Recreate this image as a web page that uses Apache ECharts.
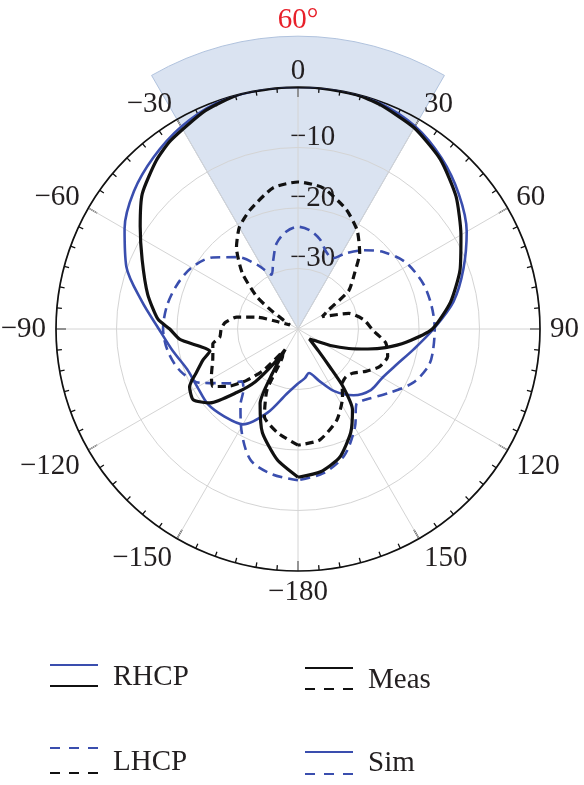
<!DOCTYPE html>
<html>
<head>
<meta charset="utf-8">
<script src="https://cdn.jsdelivr.net/npm/echarts@6/dist/echarts.min.js"></script>
<style>
  html, body { margin: 0; padding: 0; background: #fff; }
  #chart { width: 584px; height: 785px; }
</style>
</head>
<body>
<div id="chart"></div>
<script>
// ---------------- data (angle in degrees, clockwise from top; gain in dB) ----------------
const radiusTicks = [-40, -30, -20, -10, 0];
const angleTickStep = 30;
const beamAngles = [-30, 30];
const beamLabel = '60°';

const simRhcpAngles = [-180,-170,-160,-150,-140,-130,-120,-110,-100,-90,-80,-70,-60,-50,-40,-30,-20,-10,0,10,20,30,40,50,60,70,80,90,100,110,120,130,140,150,158,166,172,180];
const simRhcpDb     = [-31,-29.1,-25.3,-21.8,-21.1,-20.6,-20.8,-20.5,-19.0,-17.0,-13.8,-9.8,-6.9,-4.6,-2.9,-1.4,-0.3,0,0,0,-0.3,-1.3,-3.1,-5.3,-7.8,-10.9,-13.9,-17.6,-20.6,-22.7,-23.9,-24.3,-25.7,-28.2,-30.8,-32.5,-31.8,-31];

const simLhcpAngles = [-180,-170,-160,-150,-143,-138,-133,-128,-124,-119,-110,-100,-90,-80,-70,-60,-50,-40,-32,-26,-20,-14,-7,0,7,14,20,26,32,40,48,58,70,80,90,100,106,115,125,136,142,150,160,170,180];
const simLhcpDb     = [-15.0,-15.6,-17.0,-21.2,-24.2,-26.5,-27.3,-25.4,-24.0,-21.6,-19.4,-18.2,-17.7,-18.0,-18.7,-19.7,-21.6,-24.5,-27.6,-30.0,-28.0,-25.4,-23.8,-23.1,-23.6,-24.8,-26.4,-27.0,-25.3,-23.0,-21.0,-19.1,-18.0,-17.6,-17.4,-17.4,-17.6,-19.0,-21.6,-23.8,-24.3,-21.2,-17.7,-15.8,-15.0];

const measRhcpAngles = [-180,-171,-161,-153,-150,-148,-145,-141,-136,-130,-124,-118,-113,-108,-104,-100,-95,-90,-86,-77,-66,-57,-49,-40,-34,-23,-14,-5,0,5,14,20,30,40,50,60,70,80,90,97,102,106,111,117,124,131,137,140,142,146,153,162,171,180];
const measRhcpDb     = [-15.5,-18.1,-21.9,-26.2,-31.5,-36.0,-33.0,-28.8,-25.4,-21.0,-19.1,-19.7,-21.8,-23.5,-25.0,-23.5,-20.4,-18.8,-16.8,-14.5,-11.8,-8.9,-5.9,-3.6,-2.4,-0.8,0,0,0,0,-0.1,-0.5,-1.6,-3.4,-5.9,-8.9,-11.5,-14.4,-17.8,-22.0,-25.2,-28.0,-31.0,-34.0,-36.5,-37.5,-35.0,-31.8,-27.9,-23.9,-20.8,-17.7,-16.1,-15.5];

const measLhcpAngles = [-180,-169,-159,-153,-151,-146,-140,-135,-130,-124,-118,-110,-104,-100,-96,-90,-85,-79,-74,-70,-64,-58,-55,-52,-45,-37,-30,-22,-10,0,10,22,31,39,45,53,58,63,73,82,91,99,107,115,122,129,135,141,147,157,169,180];
const measLhcpDb     = [-20.8,-22.5,-24.5,-28.7,-34.7,-35.5,-31.0,-28.0,-25.3,-23.0,-23.8,-25.0,-25.5,-25.7,-27.0,-27.3,-27.9,-29.7,-32.9,-36.5,-38.5,-37.0,-34.4,-31.4,-27.0,-23.1,-20.6,-18.8,-16.3,-15.7,-16.3,-18.7,-21.0,-23.8,-26.7,-29.5,-34.0,-35.5,-31.2,-29.0,-27.6,-25.3,-24.5,-25.2,-26.8,-28.4,-28.8,-28.4,-26.5,-23.6,-21.3,-20.8];

// ---------------- styles ----------------
const BLUE = '#3a4eae';
const BLACK = '#111111';
const TEXT = '#231f20';
const FONT = '"Liberation Serif", "DejaVu Serif", serif';
const fanRadiusRatio = 1.21;

function toPolar(angles, db) {
  return angles.map((a, i) => [db[i], (a + 360) % 360]);
}
function angleLabel(v) {
  if (v === 360) return '';
  if (v >= 180) return '\u2212' + (360 - v);
  return String(v);
}

const chart = echarts.init(document.getElementById('chart'), null, { renderer: 'canvas' });

const legendItems = [
  { x: 50, lines: [[665, BLUE, 'solid'], [686, BLACK, 'solid']], text: 'RHCP', ty: 677 },
  { x: 305, lines: [[668, BLACK, 'solid'], [689, BLACK, 'dashed']], text: 'Meas', ty: 680 },
  { x: 50, lines: [[748, BLUE, 'dashed'], [773, BLACK, 'dashed']], text: 'LHCP', ty: 762 },
  { x: 305, lines: [[752, BLUE, 'solid'], [774, BLUE, 'dashed']], text: 'Sim', ty: 763 }
];
const graphic = [];
legendItems.forEach(it => {
  it.lines.forEach(l => {
    graphic.push({
      type: 'line', shape: { x1: it.x, y1: l[0], x2: it.x + 48, y2: l[0] },
      style: { stroke: l[1], lineWidth: 2, lineDash: l[2] === 'dashed' ? [10, 9] : null }
    });
  });
  graphic.push({
    type: 'text', x: it.x + 63, y: it.ty,
    style: { text: it.text, fill: TEXT, font: '29px ' + FONT, verticalAlign: 'middle', align: 'left' }
  });
});

const option = {
  backgroundColor: '#ffffff',
  animation: false,
  polar: { center: [298, 329], radius: [0, 242] },
  angleAxis: {
    type: 'value', min: 0, max: 360, interval: angleTickStep,
    startAngle: 90, clockwise: true, z: 3,
    axisLine: { show: true, lineStyle: { color: BLACK, width: 1.7 } },
    axisTick: { show: true, inside: true, length: 10, lineStyle: { color: BLACK, width: 1.4 } },
    minorTick: { show: true, splitNumber: 6, length: 5, lineStyle: { color: BLACK, width: 1.3 } },
    splitLine: { show: true, lineStyle: { color: '#d4d4d4', width: 1 } },
    axisLabel: { formatter: angleLabel, margin: 10, lineHeight: 12, padding: [5, 0, 0, 0], color: TEXT, fontFamily: FONT, fontSize: 29 }
  },
  radiusAxis: {
    type: 'value', min: radiusTicks[0], max: radiusTicks[radiusTicks.length - 1], interval: 10, z: 2,
    axisLine: { show: false }, axisTick: { show: false },
    splitLine: { show: true, lineStyle: { color: '#d4d4d4', width: 1 } },
    axisLabel: {
      formatter: v => (v === 0 || v === -40) ? '' : (v < 0 ? '\u2212' + Math.abs(v) : String(v)),
      align: 'left', verticalAlign: 'bottom', lineHeight: 20, margin: 8,
      color: TEXT, fontFamily: FONT, fontSize: 29
    }
  },
  graphic: graphic,
  series: [
    {
      type: 'custom', coordinateSystem: 'polar', z: -1, silent: true,
      dimensions: ['r', 'a0', 'a1'], encode: { radius: 0, angle: 1 },
      data: [[0, beamAngles[0], beamAngles[1]]],
      renderItem: function (params, api) {
        const cs = params.coordSys;
        const R = cs.r * fanRadiusRatio;
        const toRad = t => (t - 90) * Math.PI / 180;
        return {
          type: 'group',
          children: [
            { type: 'sector',
              shape: { cx: cs.cx, cy: cs.cy, r0: 0, r: R, startAngle: toRad(api.value(1)), endAngle: toRad(api.value(2)), clockwise: true },
              style: { fill: '#dae3f1', stroke: '#b1c3de', lineWidth: 1 } },
            { type: 'text',
              style: { text: beamLabel, x: cs.cx, y: cs.cy - R - 16, align: 'center', verticalAlign: 'middle', fill: '#e8202a', font: '29px ' + FONT } }
          ]
        };
      }
    },
    {
      name: 'Sim RHCP', type: 'line', coordinateSystem: 'polar', showSymbol: false, smooth: 0.3,
      data: toPolar(simRhcpAngles, simRhcpDb), lineStyle: { color: BLUE, width: 2.6 }, z: 3
    },
    {
      name: 'Sim LHCP', type: 'line', coordinateSystem: 'polar', showSymbol: false, smooth: 0.3,
      data: toPolar(simLhcpAngles, simLhcpDb), lineStyle: { color: BLUE, width: 2.6, type: [10, 6] }, z: 3
    },
    {
      name: 'Meas RHCP', type: 'line', coordinateSystem: 'polar', showSymbol: false, smooth: 0.2,
      data: toPolar(measRhcpAngles, measRhcpDb), lineStyle: { color: BLACK, width: 3.2 }, z: 4
    },
    {
      name: 'Meas LHCP', type: 'line', coordinateSystem: 'polar', showSymbol: false, smooth: 0.2,
      data: toPolar(measLhcpAngles, measLhcpDb), lineStyle: { color: BLACK, width: 3.2, type: [8, 5] }, z: 4
    }
  ]
};
chart.setOption(option);
</script>
</body>
</html>
